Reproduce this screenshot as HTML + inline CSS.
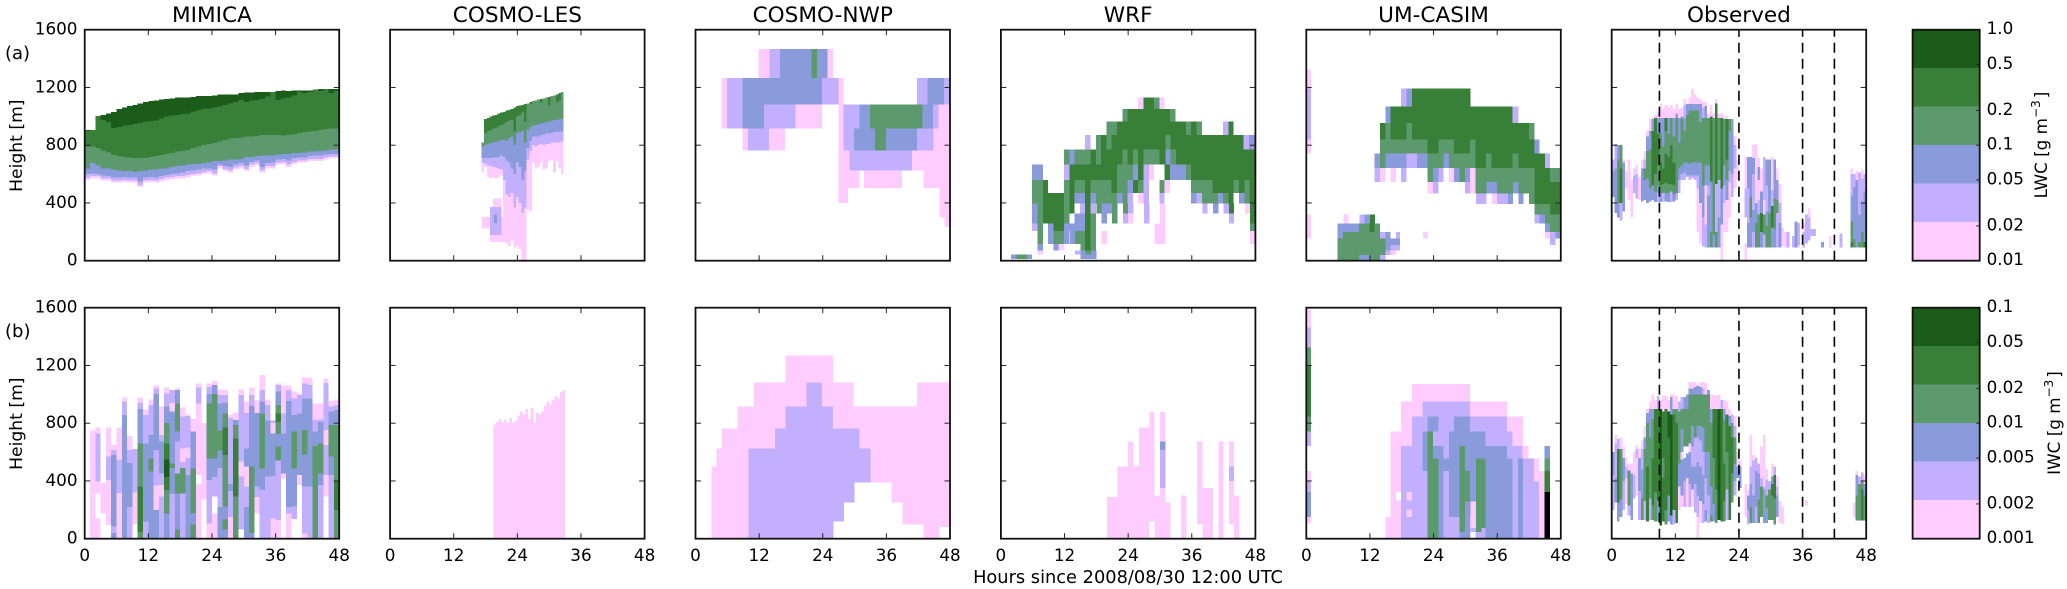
<!DOCTYPE html>
<html lang="en">
<head>
<meta charset="utf-8">
<title>LWC and IWC time-height sections</title>
<style>
html,body{margin:0;padding:0;background:#fff;}
svg{display:block;filter:blur(0.35px);}
text{font-family:"DejaVu Sans","Liberation Sans",sans-serif;fill:#000;}
</style>
</head>
<body>
<svg id="figure" xmlns="http://www.w3.org/2000/svg" width="2067" height="589" viewBox="0 0 2067 589"></svg>
<script>
// ---------- shared labels and scales ----------
const modelNames = ['MIMICA','COSMO-LES','COSMO-NWP','WRF','UM-CASIM','Observed'];
const hourTicks = [0,12,24,36,48];
const heightTicks = [0,400,800,1200,1600];
const lwcTickValues = [1.0,0.5,0.2,0.1,0.05,0.02,0.01];
const lwcTickLabels = ['1.0','0.5','0.2','0.1','0.05','0.02','0.01'];
const iwcTickValues = [0.1,0.05,0.02,0.01,0.005,0.002,0.001];
const iwcTickLabels = ['0.1','0.05','0.02','0.01','0.005','0.002','0.001'];
const obsEventHours = [9,24,36,42];
const levelColors = ['#ffffff','#ffccff','#c2b0ff','#8a9bdb','#5c9a6e','#387f37','#1b5c1b','#000000'];

// ---------- MIMICA LWC: hourly boundaries in metres ----------
const mimicaLwcTop = [906,906,1003,1010,1020,1030,1050,1060,1070,1080,1090,1100,1105,1110,1115,1120,1125,1130,1130,1130,1135,1140,1140,1140,1145,1150,1150,1150,1150,1160,1165,1165,1170,1170,1170,1170,1175,1180,1175,1180,1180,1180,1180,1185,1190,1190,1190,1190];
const mimicaLwcL1 = [560,570,570,555,555,540,540,545,540,540,510,540,545,540,550,560,565,570,570,580,585,590,600,605,590,640,620,610,630,640,620,650,660,610,640,640,665,670,650,670,680,680,690,690,690,700,710,710];
const mimicaLwcL2 = [575,585,585,570,570,555,555,560,555,555,525,555,560,555,565,575,580,585,585,595,600,605,615,620,605,655,635,625,645,655,635,665,675,625,655,655,680,685,665,685,695,695,705,705,705,715,722,722];
const mimicaLwcL3 = [600,605,600,590,585,575,575,580,575,575,550,575,580,575,585,595,600,605,610,620,625,630,640,640,630,665,655,650,665,675,660,685,695,650,675,680,700,705,695,710,715,715,725,730,730,735,740,740];
const mimicaLwcL4 = [640,675,660,640,640,630,625,620,620,615,620,625,630,630,640,640,650,655,660,665,670,670,675,680,690,690,695,700,700,705,720,720,725,730,730,730,735,740,740,745,745,750,755,755,760,765,770,770];
const mimicaLwcL5 = [790,790,780,763,750,733,725,717,715,710,710,712,718,725,733,740,745,755,760,767,780,790,800,810,815,825,835,845,850,855,860,860,865,870,870,870,870,868,870,875,885,890,895,900,905,912,917,917];
const mimicaLwcL6 = [900,1000,1003,975,960,918,925,935,940,948,955,965,968,970,985,1000,1005,1010,1015,1020,1035,1045,1050,1055,1060,1067,1078,1090,1100,1113,1100,1110,1113,1120,1136,1170,1113,1125,1130,1145,1170,1160,1170,1190,1175,1190,1160,1175];

// ---------- COSMO-LES LWC: half-hour boundaries from 17.25 h ----------
const lesLwcStartHour = 17.25;
const lesLwcStep = 0.5;
const lesLwcTop = [820,980,990,1000,1005,1010,1020,1025,1030,1040,1045,1050,1060,1070,1075,1080,1085,1090,1100,1105,1110,1115,1120,1125,1130,1135,1140,1145,1150,1160,1170];
const lesLwcL1 = [610,650,580,570,575,570,575,590,180,120,100,140,90,100,80,0,10,350,340,680,640,650,680,630,640,690,700,610,690,640,600];
const lesLwcL2 = [680,670,660,655,650,645,640,630,560,460,440,470,370,440,400,330,370,700,760,800,790,800,810,800,810,810,820,820,820,820,825];
const lesLwcL3 = [710,710,710,710,715,715,720,730,720,690,680,640,600,680,650,560,620,780,830,860,860,860,870,875,880,880,885,890,890,895,895];
const lesLwcL4 = [790,800,810,815,820,825,830,835,840,830,845,860,800,880,890,900,820,910,925,935,940,945,950,955,960,965,970,975,975,980,985];
const lesLwcL5 = [870,885,900,905,915,920,930,940,950,960,970,975,900,1000,1010,1030,960,1090,1085,1130,1130,1130,1095,1130,1130,1080,1150,1150,1100,1110,1170];
// row format: [zLow, zHigh, t0, t1, level, t0, t1, level, ...]
const lesLwcLowCloud = [
 [224,304,17.3,21.4,1],[131,224,18.8,22.3,1],[373,431,19.4,21,1],[177,373,18.8,21,2],[260,320,19.6,20.2,3]
];

// ---------- COSMO-NWP LWC ----------
const nwpLwcRows = [
 [1265,1468,11.9,25.9,1,14,24.9,2,15.9,24.9,3,21.9,22.9,4],
 [1081,1265,4.9,27.9,1,5.9,27,2,8.9,23.9,3,41.8,48,2,43.8,46.9,3],
 [915,1081,4.9,23.9,1,5.9,18.9,2,8.9,12.9,3,27,27.9,1,27.9,45.8,2,30.9,44.8,3,32.9,42.8,4,45.8,48,1],
 [765,915,8.9,16.9,1,9.9,13.9,2,27,27.9,1,27.9,44.9,2,29.9,41.8,3,33.9,35.9,4,44.9,48,1],
 [625,765,27,48,1,29,40.8,2],
 [505,625,27,30.9,1,31.8,38.9,1,43,48,1],
 [400,505,27,28.8,1,46,48,1],
 [300,400,46,48,1],
 [235,300,47,48,1]
];

// ---------- WRF LWC ----------
const wrfLwcRows = [
 [1051,1132,25.9,26.9,1,26.9,28.9,5,28.9,29.9,4,29.9,30.9,1],
 [964,1051,22.9,23.9,4,23.9,31.9,5,31.9,32.9,4],
 [871,964,19.9,21.9,4,21.9,34.9,5,34.9,35.9,4,35.9,36.9,5,36.9,37.9,4,41.9,42.9,2,42.9,43.9,5],
 [770,871,15.9,16.9,2,17.9,18.9,4,18.9,19.9,5,19.9,20.9,4,20.9,31,5,31,32,4,32,45.8,5,45.8,46.8,2,46.8,48,3],
 [668,770,11.9,12.9,4,12.9,13.9,3,13.9,16.9,4,16.9,17.9,5,17.9,18.9,4,18.9,22.9,5,22.9,23.9,4,23.9,24.9,5,24.9,25.9,4,25.9,26.9,5,26.9,29.9,4,29.9,31,5,31,32,3,32,33,4,33,48,5],
 [558,668,5.9,7.9,3,11.9,12.9,2,12.9,21.9,5,21.9,24.9,4,24.9,25.9,3,25.9,26.9,5,26.9,27.9,2,27.9,28.9,1,30.9,31.9,5,31.9,34.9,3,34.9,35.9,4,35.9,48,5],
 [470,558,5.9,7.9,4,7.9,8.9,5,11.9,12.9,4,12.9,13.9,5,13.9,15.9,4,15.9,16.9,5,16.9,20.9,4,20.9,21.9,5,21.9,23.9,4,23.9,24.9,3,24.9,25.9,5,25.9,26.9,4,26.9,27.9,2,29.9,30.9,4,30.9,31.9,1,35.9,39.9,4,39.9,43.9,5,43.9,44.9,4,44.9,45.9,5,45.9,46.9,4,46.9,48,5],
 [396,470,5.9,7.9,4,7.9,11.9,5,11.9,12.9,4,12.9,13.9,5,13.9,15.9,3,15.9,16.9,5,16.9,17.9,3,17.9,21.9,4,21.9,22.9,3,22.9,23.9,4,23.9,24.9,2,25.9,26.9,1,26.9,27.9,2,29.9,30.9,2,35.9,36.9,3,36.9,37.9,2,37.9,40.9,4,40.9,41.9,3,41.9,42.9,4,42.9,43.9,5,44.9,45.9,3,45.9,46.9,4,46.9,48,5],
 [327,396,5.9,6.9,3,6.9,7.9,4,7.9,11.9,5,11.9,12.9,4,12.9,13.9,5,14.9,15.9,2,15.9,16.9,5,16.9,17.9,2,18,19,4,19,20,3,20,21,3,21,22,4,23,24,4,24,25,2,27,28,2,30,31,1,38,39,2,40,41,3,42,43,2,43,44,5,46,47,1,47,48,5],
 [258,327,5.9,6.9,3,6.9,7.9,4,7.9,11.9,5,11.9,12.9,4,13.9,15.9,3,15.9,16.9,5,16.9,17.9,4,19,20,3,21,22,4,23,24,2,24,25,1,27,28,2,30,31,1,43,44,2,47,48,5],
 [207,258,5.9,6.9,2,6.9,7.9,4,8.9,9.9,3,9.9,11.9,5,11.9,14,3,14,15.9,3,15.9,16.9,5,16.9,17.9,4,29,31,1,47,48,4],
 [115,207,6.9,7.9,4,8.9,9.9,3,9.9,11.9,4,11.9,12.9,3,13,14,3,14,15.9,4,15.9,16.9,5,16.9,17.9,4,19,20,1,29,31,1,47,48,1],
 [72,115,6.9,7.9,3,9.9,10.9,3,10.9,11.9,1,15,15.9,4,15.9,16.9,5,16.9,17.9,4],
 [44,72,6.9,7.9,1,14,15,2,15,16,3,16,17,4,17,18,3],
 [12,44,1.9,2.9,3,2.9,4.9,4,4.9,5.9,3,15,18,3]
];

// ---------- UM-CASIM LWC ----------
const umLwcRows = [
 [1192,1323,0,0.9,1],[839,1192,0,0.9,2],[742,839,0,0.9,1],[154,320,0,0.9,1],
 [1067,1192,17.9,18.9,2,18.9,19.9,3,19.9,31,5],
 [954,1067,14.9,15.9,3,15.9,38.9,5,38.9,40,2],
 [839,954,13.9,14.9,5,14.9,15.9,4,15.9,18.9,5,18.9,19.9,4,19.9,42,5,42,43,4],
 [742,839,13.9,22.9,4,22.9,24.9,5,24.9,27.9,4,27.9,30.9,5,30.9,31.9,4,31.9,43,5,43,44,3],
 [643,742,12.9,13.9,3,13.9,14.9,4,14.9,18.9,3,18.9,20.9,2,20.9,22.9,3,22.9,25.9,4,25.9,26.9,3,26.9,31.9,4,31.9,33.9,5,33.9,34.9,4,34.9,38.9,5,38.9,40,4,40,45,5,45,46,2],
 [546,643,12.9,13.9,2,13.9,14.9,1,15.9,16.9,1,17.9,18.9,2,22.9,23.9,4,23.9,24.9,3,24.9,25.9,2,26.9,27.9,1,27.9,28.9,3,28.9,29.9,4,29.9,30.9,3,30.9,31.9,1,31.9,43,4,43,46,5,46,48,4],
 [465,546,22.9,23.9,1,23.9,24.9,2,29.9,30.9,2,30.9,31.9,1,31.9,34,4,34,36,3,36,39,4,39,40,3,40,43,4,43,48,5],
 [392,465,32,34,2,35,36,1,36,38,2,38,39,3,40,41,3,42,43,4,43,48,5],
 [320,392,43,46,4,46,48,5],
 [258,320,7,8,1,10,11,2,11,12,3,12,13,5,43,44,2,44,45,3,45,48,4],
 [200,258,5.9,9.9,3,9.9,11.9,4,11.9,12.9,5,12.9,13.9,4,45,46,3,46,48,4],
 [154,200,5.9,6.9,3,6.9,13.9,4,13.9,14.9,2,14.9,15.9,3,16.9,17.7,2,22,23,1,45,46,1,46,47,2,47,48,3],
 [108,154,5.9,14.9,4,14.9,17.7,3,46,47,2],
 [72,108,5.9,14.9,4,14.9,15.9,3,15.9,17.7,2],
 [39,72,5.9,14.9,4,14.9,15.9,2,15.9,16.9,1],
 [0,39,5.9,9.9,4,9.9,11.9,3,11.9,13.9,4,13.9,14.9,2]
];

// ---------- Observed LWC: half-hour column stacks [zTop, level, ...] from the ground up ----------
const obsStep = 0.5;
const obsLwcColumns = [
 [440,0,620,3,700,2],[330,0,640,3,810,2],[300,0,400,3,700,4,800,3],[280,0,400,2,640,5,800,4],[340,0,680,3,700,1],[500,0,620,1],[420,0,700,1],[300,0,560,1],
 [470,0,590,2,640,1],[430,0,600,2,660,1],[420,0,580,1],[410,0,640,3,700,1],[420,0,560,3,640,4,700,2,760,1],[400,0,570,3,760,4,860,3,900,1],[410,0,500,3,770,4,900,3,980,1],[420,0,520,3,740,5,900,5,980,3,1000,1],
 [405,0,480,3,600,4,810,5,990,5,1010,1],[405,0,470,2,520,3,660,4,880,5,990,3,1030,1],[405,0,470,3,520,4,680,5,880,4,990,3,1090,1],[410,0,470,2,530,4,640,5,790,4,990,3,1050,1],[410,0,470,3,540,4,740,5,900,4,990,5,1080,1],[405,0,470,3,530,4,720,5,880,4,990,3,1060,1],[405,0,480,2,530,4,800,5,990,4,1080,1],[410,0,460,3,520,4,680,5,860,4,990,3,1050,1],
 [420,0,470,2,520,4,730,4,990,4,1020,3,1090,1],[470,0,560,2,640,3,820,4,990,3,1050,1],[560,0,600,2,660,3,860,4,980,4,1000,3,1060,1],[560,0,610,2,680,3,900,4,990,3,1080,2,1120,1],[580,0,590,2,680,3,1010,4,1085,3,1090,1],[560,0,590,2,670,3,1040,4,1085,3,1130,1],[570,0,590,2,680,3,1040,4,1085,3,1190,1],[560,0,590,2,680,3,1040,4,1085,3,1150,1],
 [200,0,500,1,590,2,680,3,1040,4,1085,3,1130,1],[120,0,400,1,590,3,680,3,960,4,1085,3,1120,1],[100,0,300,2,520,3,700,4,990,4,1060,2,1100,1],[90,0,250,2,520,1,660,3,990,4,1070,3,1100,1],[90,0,130,3,450,3,520,2,660,3,990,4,1020,1],[90,0,200,4,550,3,1000,5,1080,1],[90,0,180,3,500,4,800,4,990,4,1020,1],[90,0,200,4,530,2,1090,5,1120,1],
 [90,0,300,3,560,2,990,4,1020,1],[250,1,500,3,990,5,1020,1],[200,0,400,1,520,2,660,3,980,4,1000,1],[200,0,420,1,560,3,700,4,980,5,1000,1],[300,0,540,1,620,2,900,3,980,4],[440,0,600,2,980,3],[500,0,640,1,800,2,860,1],[560,0,640,1,700,1],
 [],[],[120,1,300,0,500,2,720,1],[90,0,260,3,500,2,720,3],[90,0,300,3,440,4,720,3],[90,0,200,2,350,3,600,2,710,3,800,1],[90,0,260,4,400,3,600,1,810,1],[90,0,320,4,420,2,560,1,650,3,710,1],
 [90,0,200,3,330,5,480,3,640,1],[90,0,180,2,320,4,420,1,720,2],[90,0,240,4,340,3,520,2,700,3],[90,0,330,4,430,3,700,3],[90,0,230,3,380,5,490,2,720,1],[90,0,220,3,430,4,700,3],[90,0,330,2,420,4,560,3,640,1],[90,0,260,3,400,2,530,1],
 [100,0,230,1],[90,0,200,1],[90,0,200,2],[],[90,0,170,2],[90,0,270,3],[90,0,110,1,260,2],[],
 [90,0,200,2,260,1],[120,0,320,2],[140,0,300,2,360,1],[170,0,220,2],[170,0,220,2],[],[],[90,0,130,3],
 [],[],[90,0,170,1],[],[],[],[90,0,190,2],[],
 [],[],[90,0,130,5,270,4,450,3,600,2,640,1],[90,0,150,4,300,3,510,3,600,2],[90,0,250,3,560,3,620,1],[90,0,130,4,320,3,610,2],[90,0,200,4,400,3,570,2,630,1],[90,0,130,5,300,3,480,3,600,2]
];

// ---------- MIMICA IWC: per-hour column stacks [zTop, level, zTop, level, ...] from the ground up ----------
const mimicaIwcColumns = [
 [],[750,1],[141,1,314,0,395,1,730,2,770,1],[175,0,385,1],[95,0,406,1,568,2,770,1],[40,3,85,2,580,3,615,2,650,1],[315,1,545,2,770,1],[857,3,949,2,979,1],
 [220,2,525,3,615,2,710,1],[100,0,320,1,620,2],[48,4,360,5,660,4,898,3,944,2,979,1],[120,2,660,3,857,2,896,1],[464,3,556,4,718,3,926,2,965,1],[200,3,370,1,614,2,1002,3,1041,2,1060,1],[291,2,372,1,453,2,672,3,718,2,914,1],[175,3,337,4,429,5,550,6,660,5,803,4,914,3,1007,2,1048,1],
 [310,2,490,3,520,4,880,3,940,1,1030,2],[65,4,314,3,453,4,672,2,741,3,937,4,1030,3,1045,1],[314,2,490,4,530,2,625,1,845,2,910,1],[440,3,560,2,630,1,850,2,860,1],[100,4,175,3,487,4,741,3,830,1],[380,1,440,0,937,1,1048,2,1076,1],[270,0,800,1],[106,1,406,2,556,3,937,4,1002,3,1050,2,1075,1],
 [175,1,291,0,429,2,556,3,1002,4,1065,3,1094,1],[220,3,490,2,610,3,750,4,937,3,995,2,1035,1],[65,3,134,4,222,3,580,4,771,5,868,4,944,3,995,2,1030,1],[152,1,330,2,380,3,835,2,857,1],[291,4,695,5,787,4,822,3,873,1],[65,0,430,2,535,1,995,2,1035,1],[220,3,360,2,500,1,625,3,870,2,950,1],[40,3,499,4,919,3,995,2,1048,1],
 [175,0,290,1,360,2,870,3,960,1],[337,2,487,3,868,4,949,3,1030,2,1133,1],[430,2,820,3,926,2,965,1],[140,1,435,2,730,3,800,1,820,2],[130,1,540,2,640,4,725,3,810,4,868,5,926,4,1018,3,1065,2,1075,1],[418,0,450,1,730,3,868,2,1060,1],[175,1,220,2,955,3,1030,2,1060,1],[135,0,222,2,487,3,741,4,857,3,972,2,1018,1],
 [372,0,441,1,868,3,995,2,1005,1],[37,1,360,2,584,3,753,4,972,3,1076,2,1117,1],[360,2,972,3,1065,2,1117,1],[642,4,741,3,822,2,937,1],[372,2,453,3,660,4,810,3,825,2,937,1],[291,0,441,1,649,2,753,1,1080,2,1110,1],[441,2,568,3,787,4,880,3,914,2,955,1],[199,4,395,5,787,4,890,3,925,2,965,1]
];

// ---------- COSMO-LES IWC: half-hour top heights from 19.5 h ----------
const lesIwcStartHour = 19.5;
const lesIwcStep = 0.5;
const lesIwcTop = [790,810,830,805,825,800,835,800,820,850,880,860,900,830,905,800,870,860,880,920,950,930,960,990,970,1015,1030];
const lesIwcLevel = 1;

// ---------- COSMO-NWP IWC ----------
const nwpIwcRows = [
 [1083,1270,17,25.9,1],
 [914,1083,11,29.8,1,41.8,48,1,20.9,23.9,2],
 [762,914,7.9,48,1,17,25.9,2],
 [625,762,5,48,1,15,30.9,2],
 [0,625,4,48,1],[0,500,3,4,1],
 [0,625,10,33,2],
 [0,120,26,28,0],[0,250,28,30,0],[0,390,30,37,0],[0,250,37,39,0],[0,100,39,43,0],[0,80,46,48,0]
];

// ---------- WRF IWC ----------
const wrfIwcRows = [
 [0,290,20,22,1],[0,500,22,24,1],[0,672,24,25,1],[0,500,25,26,1],[0,771,26,28,1],[120,877,28,29,1],[0,300,29,30,1],[0,877,30,31,1],[0,250,31,32,1],
 [500,672,30,31,2],[614,672,30,31,3],[350,500,30,31,2],
 [0,300,34,35,1],[100,672,37,38,1],[0,350,38,40,1],[0,672,41,42,1],[100,672,43,44,1],[0,300,44,45,1],[400,500,43,44,2]
];

// ---------- UM-CASIM IWC ----------
const umIwcRows = [
 [1464,1588,0,0.9,1],[1323,1464,0,0.9,2],[1198,1323,0,0.9,4],[845,1198,0,0.9,5],[741,845,0,0.9,4],[642,741,0,0.9,2],[395,469,0,0.9,1],[325,395,0,0.9,2],[152,325,0,0.9,3],[106,152,0,0.9,1],
 [951,1071,19.9,30.9,1],[845,951,17.9,37.9,1],[741,845,17.9,40.9,1],[642,741,15.9,40.9,1],[554,642,15.9,41.9,1],[469,554,15.9,43.9,1],[152,469,15.9,44.9,1],[0,152,14.9,44.9,1],
 [845,951,21.9,30.9,2],[741,845,19.9,37.9,2],[642,741,19.9,38.9,2],[554,642,17.9,40.8,2],[0,554,17.9,42.9,2],[0,395,42.9,43.9,2],
 [263,323,16.9,17.9,0],[263,323,18.9,19.9,1],[152,201,18.9,19.9,1],
 [741,845,22.9,24.9,3,27.9,30.9,3],[642,741,21.9,23.9,3,26.9,33.8,3],[554,642,21.9,25.9,3,26.9,37.9,3],[469,554,21.9,38.9,3,39.9,40.9,3],[152,469,22.9,25.9,3,26.9,38.9,3,39.9,40.9,3],[0,152,22.9,25.9,3,28.9,30.9,3,33.8,38.9,3,39.9,40.9,3],
 [469,741,22.9,23.9,4],[0,554,22.9,24.9,4],[469,642,28.9,29.9,4],[257,469,28.9,30.9,4],[46,257,28.9,29.9,4],[74,554,32,33.8,4],[46,74,32,33,4],
 [74,257,31,32,1],[0,46,31,31.9,0],
 [554,642,44.9,46,3],[469,554,44.9,46,4],[323,469,44.9,46,5],[0,323,44.9,46,7],[0,46,43.9,44.9,1]
];

// ---------- Observed IWC: half-hour column stacks ----------
const obsIwcColumns = [
 [200,0,440,2,600,3],[250,0,420,3,660,2,720,1],[120,0,250,3,620,5,690,2],[150,0,270,3,400,4,620,4,700,1],[200,0,400,2,560,3,640,1],[240,0,420,1,500,2,560,1],[160,0,230,2,470,4,480,2,520,1],[130,0,450,3,520,1],
 [280,0,440,2,600,1],[300,0,560,1,620,2,650,1],[130,0,330,2,560,3,620,1],[130,0,280,4,480,3,620,2,680,1],[130,0,260,2,620,4,700,3,780,1],[120,0,500,5,800,4,870,3,900,1],[130,0,280,2,700,4,900,3,950,1],[130,0,230,4,560,5,830,4,900,3,1000,1],
 [120,0,320,4,600,5,900,5,960,1],[120,0,260,3,700,5,900,5,990,2],[90,0,900,6,960,1],[120,0,420,5,560,4,880,5,990,1],[100,0,200,4,820,5,900,5,990,1],[120,0,300,3,700,5,880,6,960,1],[100,0,160,3,860,6,980,3,1000,1],[100,0,200,2,860,5,900,4,1000,1],
 [110,0,800,5,900,4,990,1],[200,0,360,1,520,3,880,4,950,2],[220,0,300,1,550,3,600,1,760,3,900,4,980,2],[220,0,400,2,560,3,640,0,780,4,900,4,980,3],[220,0,420,1,590,3,640,0,780,4,900,4,1000,3],[220,0,380,2,600,3,660,1,780,4,1000,4,1040,3,1085,1],[220,0,340,1,500,3,640,2,780,3,1000,4,1040,3,1085,1],[180,0,380,2,500,3,700,2,780,4,1000,4,1050,3,1085,1],
 [150,1,300,2,530,3,700,2,780,3,1000,4,1060,3],[110,0,260,1,500,3,680,2,780,3,1000,4,1050,3,1085,1],[110,0,240,2,440,3,600,2,770,3,1000,4,1040,2,1085,1],[120,0,200,3,420,2,600,3,780,4,1000,4,1080,1],[110,0,300,2,600,3,775,4,1000,4,1030,3],[120,0,160,4,360,3,520,4,800,4,900,3,1000,1],[120,0,240,3,560,4,900,5,1000,1],[110,0,340,4,620,5,900,5,990,1],
 [130,0,900,6,1000,1],[120,0,500,5,900,5,960,2],[120,0,260,4,520,5,820,4,900,3,960,1],[130,0,340,2,600,4,860,5,950,1],[130,0,420,5,780,5,850,3,900,1],[250,0,450,4,700,5,800,4,860,2],[300,0,400,2,520,3,700,4,780,2,850,1],[420,0,500,3,600,1],
 [350,0,500,3,540,1],[],[150,0,250,1,380,1],[100,0,200,2,300,3,340,1],[110,0,220,4,380,3,500,2,720,1],[110,0,300,3,540,2,580,1],[110,0,220,2,470,3,560,2],[110,0,270,4,450,3,520,2],
 [150,0,360,4,420,2,640,1],[110,0,340,3,360,2,500,1,720,1],[110,0,210,3,300,4,410,2,480,1],[130,0,340,4,400,2],[130,0,300,4,380,5,430,3,520,1],[100,0,280,4,440,5,500,2],[150,0,300,3,360,2,430,1],[110,0,260,1],
 [100,0,220,1],[],[],[],[],[],[],[],
 [],[230,0,265,1],[],[],[],[],[],[],
 [],[],[],[],[],[],[],[],
 [],[],[],[150,0,250,1],[125,0,300,4,440,3,470,1],[125,0,380,4,430,2],[125,0,340,5,400,4,460,2],[125,0,300,4,380,3,440,1]
];

// ---------- layout and axis functions ----------
const svgNS = 'http://www.w3.org/2000/svg';
const figure = document.getElementById('figure');
const panelWidth = 254.5;
const panelHeight = 231;
const rowTops = [29.7, 307.7];
const hourMax = 48;
const heightMax = 1600;
function panelLeft(col){ return 84.7 + col * 305.4; }
function xScale(col, hour){ return panelLeft(col) + hour / hourMax * panelWidth; }
function yScale(row, z){ return rowTops[row] + panelHeight - z / heightMax * panelHeight; }

function svgEl(tag, attrs, parent){
  const el = document.createElementNS(svgNS, tag);
  for (const k in attrs) el.setAttribute(k, attrs[k]);
  (parent || figure).appendChild(el);
  return el;
}
function addCell(group, col, row, t0, t1, z0, z1, level){
  if (z1 <= z0 || t1 <= t0) return;
  const x0 = xScale(col, Math.max(0, t0));
  const x1 = xScale(col, Math.min(hourMax, t1));
  const y0 = yScale(row, z1);
  const y1 = yScale(row, z0);
  const el = svgEl('rect', {x:x0, y:y0, width:x1-x0, height:y1-y0, fill:levelColors[level], 'shape-rendering':'crispEdges'}, group);
  
  
}
function drawRows(group, col, row, rows){
  rows.forEach(function(r){
    for (let i = 2; i + 2 < r.length; i += 3) addCell(group, col, row, r[i], r[i+1], r[0], r[1], r[i+2]);
  });
}
function drawBands(group, col, row, start, step, top, bandLists){
  bandLists.forEach(function(lower, idx){
    lower.forEach(function(z, i){
      addCell(group, col, row, start + i*step, start + (i+1)*step, z, top[i], idx + 1);
    });
  });
}
function drawStacks(group, col, row, columns, step){
  columns.forEach(function(stack, i){
    let z = 0;
    for (let k = 0; k + 1 < stack.length; k += 2){
      if (stack[k+1] > 0) addCell(group, col, row, i*step, (i+1)*step, z, stack[k], stack[k+1]);
      z = stack[k];
    }
  });
}
function newGroup(name){
  const g = svgEl('g', {});
  
  
  return g;
}

// ---------- heatmaps ----------
let g;
g = newGroup('mimica-lwc-heatmap');
drawBands(g, 0, 0, 0, 1, mimicaLwcTop, [mimicaLwcL1, mimicaLwcL2, mimicaLwcL3, mimicaLwcL4, mimicaLwcL5, mimicaLwcL6]);
g = newGroup('cosmo-les-lwc-heatmap');
drawBands(g, 1, 0, lesLwcStartHour, lesLwcStep, lesLwcTop, [lesLwcL1, lesLwcL2, lesLwcL3, lesLwcL4, lesLwcL5]);
drawRows(g, 1, 0, lesLwcLowCloud);
g = newGroup('cosmo-nwp-lwc-heatmap');
drawRows(g, 2, 0, nwpLwcRows);
g = newGroup('wrf-lwc-heatmap');
drawRows(g, 3, 0, wrfLwcRows);
g = newGroup('um-casim-lwc-heatmap');
drawRows(g, 4, 0, umLwcRows);
g = newGroup('observed-lwc-heatmap');
drawStacks(g, 5, 0, obsLwcColumns, obsStep);
g = newGroup('mimica-iwc-heatmap');
drawStacks(g, 0, 1, mimicaIwcColumns, 1);
g = newGroup('cosmo-les-iwc-heatmap');
lesIwcTop.forEach(function(z, i){
  addCell(g, 1, 1, lesIwcStartHour + i*lesIwcStep, lesIwcStartHour + (i+1)*lesIwcStep, 0, z, lesIwcLevel);
});
g = newGroup('cosmo-nwp-iwc-heatmap');
drawRows(g, 2, 1, nwpIwcRows);
g = newGroup('wrf-iwc-heatmap');
drawRows(g, 3, 1, wrfIwcRows);
g = newGroup('um-casim-iwc-heatmap');
drawRows(g, 4, 1, umIwcRows);
g = newGroup('observed-iwc-heatmap');
drawStacks(g, 5, 1, obsIwcColumns, obsStep);

// ---------- event lines on the observed panels ----------
[0,1].forEach(function(row){
  obsEventHours.forEach(function(h){
    const line = svgEl('line', {x1:xScale(5,h), x2:xScale(5,h), y1:yScale(row,0), y2:yScale(row,heightMax), stroke:'#000', 'stroke-width':1.6, 'stroke-dasharray':'10 6'});
    
    
  });
});

// ---------- frames, ticks, labels ----------
function addText(str, x, y, size, anchor, name, rotate){
  const attrs = {x:x, y:y, 'font-size':size, 'text-anchor':anchor};
  if (rotate) attrs.transform = 'rotate(-90 ' + x + ' ' + y + ')';
  const t = svgEl('text', attrs);
  t.textContent = str;
  
  
  return t;
}
for (let row = 0; row < 2; row++){
  for (let col = 0; col < 6; col++){
    const left = panelLeft(col), top = rowTops[row], bottom = top + panelHeight, right = left + panelWidth;
    hourTicks.forEach(function(h){
      if (h === 0 || h === hourMax) return;
      const x = xScale(col, h);
      const t1 = svgEl('line', {x1:x, x2:x, y1:bottom, y2:bottom-5.5, stroke:'#222', 'stroke-width':1});
      
      
      const t2 = svgEl('line', {x1:x, x2:x, y1:top, y2:top+5.5, stroke:'#222', 'stroke-width':1});
      
      
    });
    heightTicks.forEach(function(z){
      if (z === 0 || z === heightMax) return;
      const y = yScale(row, z);
      const t1 = svgEl('line', {x1:left, x2:left+5.5, y1:y, y2:y, stroke:'#222', 'stroke-width':1});
      
      
      const t2 = svgEl('line', {x1:right, x2:right-5.5, y1:y, y2:y, stroke:'#222', 'stroke-width':1});
      
      
    });
    const frame = svgEl('rect', {x:left, y:top, width:panelWidth, height:panelHeight, fill:'none', stroke:'#111', 'stroke-width':1.8});
    
    
    if (row === 0) addText(modelNames[col], left + panelWidth/2, 22, 21.6, 'middle', 'panel-title');
    if (row === 1) hourTicks.forEach(function(h){
      addText(String(h), xScale(col, h), 561, 16.8, 'middle', 'x-tick-label');
    });
    if (col === 0) heightTicks.forEach(function(z){
      addText(String(z), 77.5, yScale(row, z) + 5, 16.8, 'end', 'y-tick-label');
    });
  }
  addText('Height [m]', 22, rowTops[row] + 116, 17.2, 'middle', 'y-axis-title', true);
}
addText('(a)', 5, 59, 18, 'start', 'row-label-a');
addText('(b)', 5, 337, 18, 'start', 'row-label-b');
addText('Hours since 2008/08/30 12:00 UTC', 1128, 583, 17.8, 'middle', 'x-axis-title');

// ---------- colour bars ----------
const barLeft = 1912.6;
const barWidth = 67.1;
function barY(row, value, vmin, vmax){
  return rowTops[row] + panelHeight - Math.log(value/vmin) / Math.log(vmax/vmin) * panelHeight;
}
function drawColorbar(row, values, labels, title, titleX, centerY){
  const vmax = values[0], vmin = values[values.length-1];
  for (let lvl = 1; lvl <= 6; lvl++){
    const h = panelHeight / 6;
    const band = svgEl('rect', {x:barLeft, y:rowTops[row] + panelHeight - lvl*h, width:barWidth, height:h, fill:levelColors[lvl], 'shape-rendering':'crispEdges'});
    
    
  }
  values.forEach(function(v, i){
    const y = barY(row, v, vmin, vmax);
    const tick = svgEl('line', {x1:barLeft+barWidth, x2:barLeft+barWidth-3.5, y1:y, y2:y, stroke:'#222', 'stroke-width':1});
    
    
    addText(labels[i], 1986.6, y + 4.5, 16.8, 'start', 'colorbar-tick-label');
  });
  const frame = svgEl('rect', {x:barLeft, y:rowTops[row], width:barWidth, height:panelHeight, fill:'none', stroke:'#111', 'stroke-width':1.8});
  
  
  const t = addText(title + ' [g m', titleX, centerY, 16.8, 'middle', 'colorbar-title', true);
  const sup = svgEl('tspan', {dy:-7, 'font-size':12}, t);
  sup.textContent = '\u22123';
  const close = svgEl('tspan', {dy:7, dx:2}, t);
  close.textContent = ']';
}
drawColorbar(0, lwcTickValues, lwcTickLabels, 'LWC', 2047, 145);
drawColorbar(1, iwcTickValues, iwcTickLabels, 'IWC', 2060, 423);
</script>
</body>
</html>
